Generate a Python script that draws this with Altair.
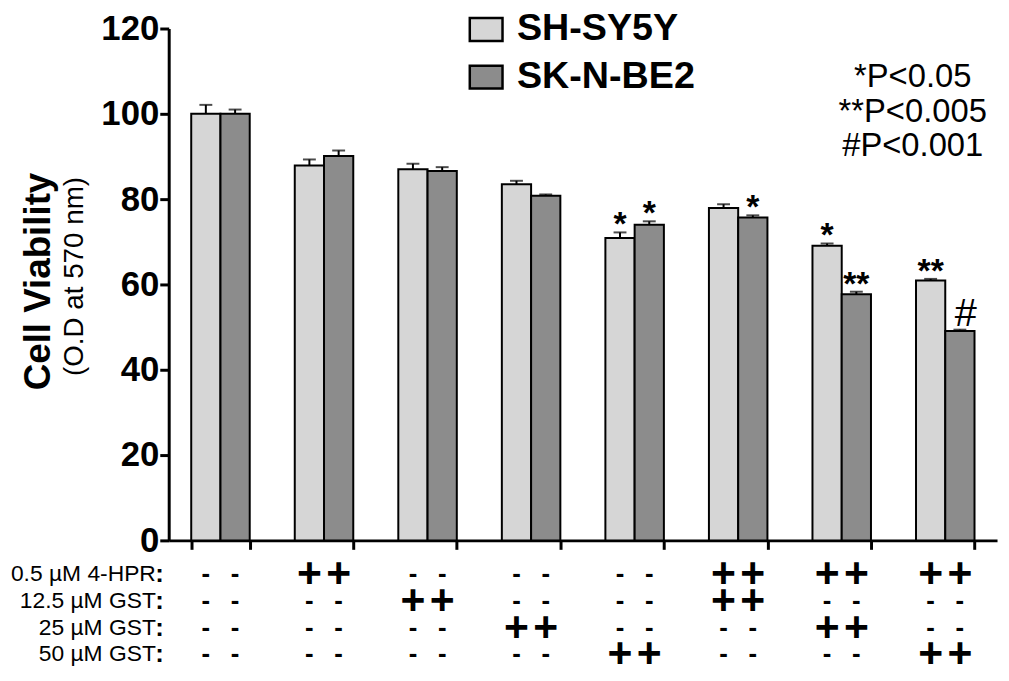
import altair as alt
import pandas as pd

FONT = "Liberation Sans"

groups = ["Control", "4-HPR", "GST 12.5", "GST 25", "GST 50",
          "4-HPR+GST 12.5", "4-HPR+GST 25", "4-HPR+GST 50"]
series = ["SH-SY5Y", "SK-N-BE2"]
sh_vals = [100.0, 87.9, 87.0, 83.5, 70.9, 77.9, 69.1, 60.9]
sh_err = [2.1, 1.4, 1.3, 0.8, 1.3, 0.9, 0.5, 0.4]
sk_vals = [100.0, 90.1, 86.6, 80.8, 74.0, 75.7, 57.7, 49.1]
sk_err = [1.0, 1.3, 0.9, 0.3, 0.8, 0.5, 0.6, 0.3]
sh_sig = ["", "", "", "", "*", "", "*", "**"]
sk_sig = ["", "", "", "", "*", "*", "**", "#"]

row_labels = ["0.5 µM 4-HPR", "12.5 µM GST", "25 µM GST", "50 µM GST"]
row_hpr = [0, 1, 0, 0, 0, 1, 1, 1]
row_gst125 = [0, 0, 1, 0, 0, 1, 0, 0]
row_gst25 = [0, 0, 0, 1, 0, 0, 1, 0]
row_gst50 = [0, 0, 0, 0, 1, 0, 0, 1]
p_legend = ["*P<0.05", "**P<0.005", "#P<0.001"]
y_title = "Cell Viability"
y_subtitle = "(O.D at 570 nm)"

rows = []
for i, g in enumerate(groups):
    rows.append(dict(group=g, series=series[0], value=sh_vals[i],
                     top=sh_vals[i] + sh_err[i], sig=sh_sig[i]))
    rows.append(dict(group=g, series=series[1], value=sk_vals[i],
                     top=sk_vals[i] + sk_err[i], sig=sk_sig[i]))
df = pd.DataFrame(rows)
star_df = df[df["sig"].str.startswith("*")]
hash_df = df[df["sig"] == "#"]

x = alt.X("group:N", sort=groups,
          scale=alt.Scale(paddingInner=0.435, paddingOuter=0.2175),
          axis=alt.Axis(title=None, labels=False, tickBand="extent",
                        tickSize=9, tickWidth=3, domainWidth=3,
                        domainColor="black", tickColor="black"))
xo = alt.XOffset("series:N", sort=series,
                 scale=alt.Scale(paddingInner=0, paddingOuter=0))
y = alt.Y("value:Q", scale=alt.Scale(domain=[0, 120], nice=False),
          axis=alt.Axis(values=[0, 20, 40, 60, 80, 100, 120], title=None,
                        labelFont=FONT, labelFontSize=35, labelFontWeight="bold",
                        labelColor="black", labelPadding=1,
                        tickSize=9, tickWidth=3, domainWidth=3,
                        domainColor="black", tickColor="black", grid=False))

bars = alt.Chart(df).mark_bar(stroke="black", strokeWidth=2).encode(
    x=x, xOffset=xo, y=y,
    fill=alt.Fill("series:N", sort=series,
                  scale=alt.Scale(domain=series, range=["#d6d6d6", "#8c8c8c"]),
                  legend=alt.Legend(title=None, orient="none", legendX=301, legendY=-18,
                                    labelFont=FONT, labelFontSize=38,
                                    labelFontWeight="bold", labelColor="black",
                                    labelLimit=400,
                                    symbolType="M-1,-0.7H1V0.7H-1Z",
                                    symbolSize=1089, symbolStrokeColor="black",
                                    symbolStrokeWidth=2.5, symbolOpacity=1,
                                    rowPadding=10, labelOffset=12)))

err_rule = alt.Chart(df).mark_rule(color="black", strokeWidth=2).encode(
    x=x, xOffset=xo, y="value:Q", y2="top:Q")
err_cap = alt.Chart(df).mark_tick(color="black", thickness=2, size=13).encode(
    x=x, xOffset=xo, y="top:Q")

stars = alt.Chart(star_df).mark_text(font=FONT, fontWeight="bold", fontSize=34,
                                     baseline="alphabetic", dy=3, color="black").encode(
    x=x, xOffset=xo, y="top:Q", text="sig:N")
hashes = alt.Chart(hash_df).mark_text(font=FONT, fontSize=40,
                                      baseline="alphabetic", dy=-4, dx=6,
                                      color="black").encode(
    x=x, xOffset=xo, y="top:Q", text="sig:N")

layers = [bars, err_rule, err_cap, stars, hashes]

table_rows = [row_hpr, row_gst125, row_gst25, row_gst50]
row_y = [550, 577, 604, 631]
for r, flags in enumerate(table_rows):
    recs = []
    for i, g in enumerate(groups):
        for s in series:
            recs.append(dict(group=g, series=s, sym="+" if flags[i] else "-",
                             fs=43 if flags[i] else 26))
    tdf = pd.DataFrame(recs)
    layers.append(alt.Chart(tdf).mark_text(font=FONT, fontWeight="bold", baseline="middle",
                                           color="black").encode(
        x=x, xOffset=xo, y=alt.value(row_y[r]), text="sym:N",
        size=alt.Size("fs:Q", scale=None)))
    ldf = pd.DataFrame({"t": [row_labels[r]]})
    layers.append(alt.Chart(ldf).mark_text(font=FONT, fontSize=23, align="right",
                                           baseline="middle", color="black").encode(
        x=alt.value(-13), y=alt.value(row_y[r]), text="t:N"))
    layers.append(alt.Chart(pd.DataFrame({"t": [":"]})).mark_text(
        font=FONT, fontSize=26, fontWeight="bold", align="right", baseline="middle",
        color="black").encode(x=alt.value(-5), y=alt.value(row_y[r]), text="t:N"))

layers.append(alt.Chart(pd.DataFrame({"t": [y_title]})).mark_text(
    font=FONT, fontSize=37, fontWeight="bold", angle=270, align="center",
    baseline="middle", color="black").encode(
    x=alt.value(-131), y=alt.value(255), text="t:N"))
layers.append(alt.Chart(pd.DataFrame({"t": [y_subtitle]})).mark_text(
    font=FONT, fontSize=28, angle=270, align="center",
    baseline="middle", color="black").encode(
    x=alt.value(-94), y=alt.value(250), text="t:N"))

for k, line in enumerate(p_legend):
    layers.append(alt.Chart(pd.DataFrame({"t": [line]})).mark_text(
        font=FONT, fontSize=33, align="center", baseline="middle", color="black").encode(
        x=alt.value(750), y=alt.value(49 + 35 * k), text="t:N"))

chart = alt.layer(*layers).properties(
    width=835, height=516,
    autosize=alt.AutoSizeParams(type="none"),
    padding={"left": 162, "top": 18, "right": 4, "bottom": 131},
).configure_view(stroke=None)

chart.save("out.html", embed_options={"renderer": "svg", "actions": False})
